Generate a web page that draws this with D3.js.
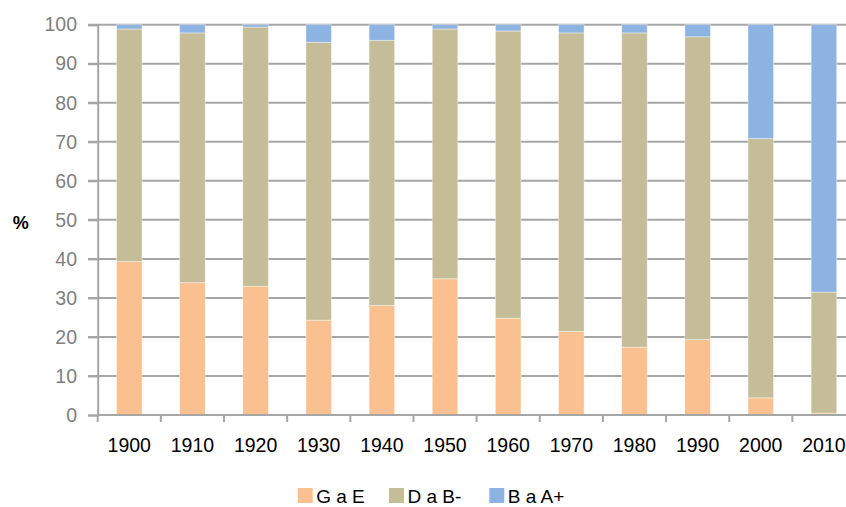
<!DOCTYPE html>
<html><head><meta charset="utf-8">
<script src="https://cdn.jsdelivr.net/npm/d3@7"></script>
<style>body{margin:0;background:#fff}svg{display:block}</style>
</head><body>
<script>
const years = ["1900","1910","1920","1930","1940","1950","1960","1970","1980","1990","2000","2010"];
const seriesNames = ["G a E","D a B-","B a A+"];
const gaE  = [39.3,33.9,33.0,24.3,28.1,34.9,24.8,21.4,17.4,19.3,4.4,0.5];
const daB  = [59.6,64.0,66.4,71.2,67.9,64.0,73.6,76.5,80.5,77.6,66.4,31.0];
const baA  = [1.1,2.1,0.6,4.5,4.0,1.1,1.6,2.1,2.1,3.1,29.2,68.5];
const yTicks = [0,10,20,30,40,50,60,70,80,90,100];
const colors = ["#FAC090","#C4BD97","#8DB3E2"];

const W = 846, H = 507;
const svg = d3.select("body").append("svg").attr("width",W).attr("height",H);
const font = "'Liberation Sans', Arial, sans-serif";

const x = d3.scaleBand().domain(years).range([97.7, 855.5]).paddingInner(0.595).paddingOuter(0.2975);
const y = d3.scaleLinear().domain([0,100]).range([415, 24.7]);

// gridlines
svg.append("g").selectAll("line").data(yTicks.filter(d=>d>0)).join("line")
  .attr("x1",88).attr("x2",W).attr("y1",d=>y(d)).attr("y2",d=>y(d))
  .attr("stroke","#A6A6A6").attr("stroke-width",2);

// y axis
const yAxis = svg.append("g").attr("transform","translate(97.7,0)")
  .call(d3.axisLeft(y).tickValues(yTicks).tickSize(9.7).tickPadding(11));
yAxis.select(".domain").attr("stroke","#A6A6A6").attr("stroke-width",2);
yAxis.selectAll(".tick line").attr("stroke","#A6A6A6").attr("stroke-width",2);
yAxis.selectAll("text").attr("fill","#7F7F7F").style("font-family",font).style("font-size","19.5px");

// stacked data
const table = years.map((yr,i)=>({year:yr, "G a E":gaE[i], "D a B-":daB[i], "B a A+":baA[i]}));
const stack = d3.stack().keys(seriesNames)(table);

svg.append("g").selectAll("g").data(stack).join("g").attr("fill",(d,i)=>colors[i])
  .selectAll("rect").data(d=>d).join("rect")
  .attr("x",d=>x(d.data.year)).attr("width",x.bandwidth())
  .attr("y",d=>y(d[1])).attr("height",d=>y(d[0])-y(d[1]))
  .attr("stroke","#ffffff").attr("stroke-opacity",0.5).attr("stroke-width",0.8);

// x axis
const edges = d3.range(years.length+1).map(i=>97.7 + i*x.step());
const xg = svg.append("g");
xg.append("line").attr("x1",97.7).attr("x2",W).attr("y1",415).attr("y2",415)
  .attr("stroke","#A6A6A6").attr("stroke-width",2);
xg.selectAll(".tk").data(edges).join("line").attr("class","tk")
  .attr("x1",d=>d).attr("x2",d=>d).attr("y1",415).attr("y2",422)
  .attr("stroke","#A6A6A6").attr("stroke-width",2);
xg.selectAll("text").data(years).join("text")
  .attr("x",d=>x(d)+x.bandwidth()/2).attr("y",452).attr("text-anchor","middle")
  .attr("fill","#000").style("font-family",font).style("font-size","19.5px").text(d=>d);

// y label
svg.append("text").attr("x",20.7).attr("y",229).attr("text-anchor","middle")
  .style("font-family",font).style("font-size","18px").style("font-weight","bold").text("%");

// legend
const legX = [297.7, 389, 489.3];
const leg = svg.append("g").selectAll("g").data(seriesNames).join("g")
  .attr("transform",(d,i)=>`translate(${legX[i]},488)`);
leg.append("rect").attr("width",15).attr("height",15).attr("fill",(d,i)=>colors[i]);
leg.append("text").attr("x",18.5).attr("y",14.5).style("font-family",font).style("font-size","19px")
  .attr("fill","#000").text(d=>d);
</script>
</body></html>
